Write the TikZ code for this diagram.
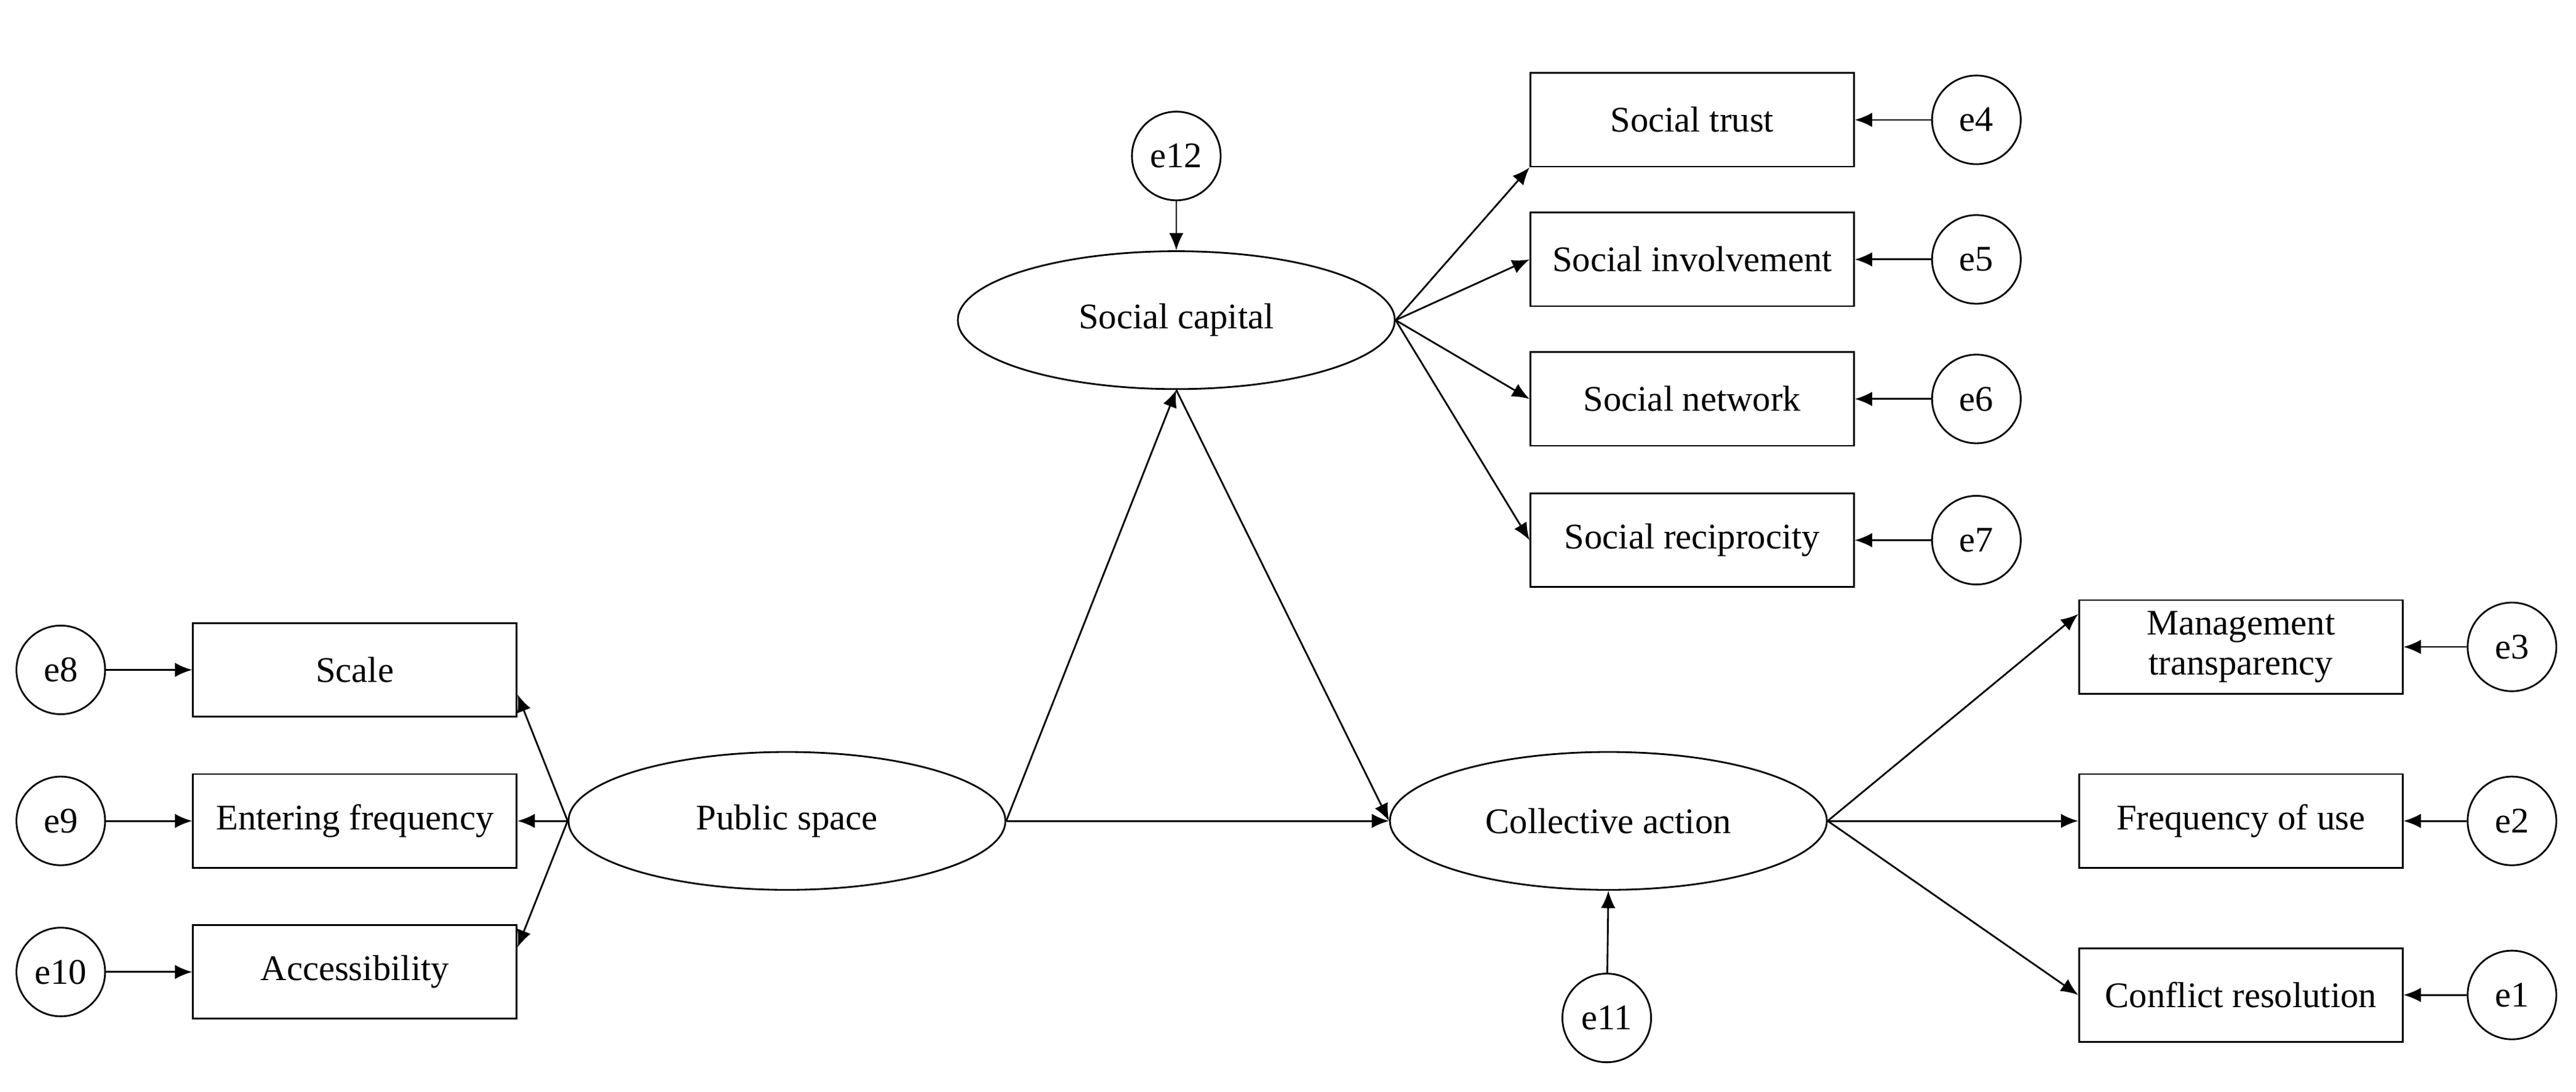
\documentclass[tikz,border=0pt]{standalone}
\usepackage{fontspec}
\setmainfont{Liberation Serif}
\usetikzlibrary{arrows.meta,shapes.geometric}
\begin{document}
\begin{tikzpicture}[x=0.02cm,y=-0.02cm,
  every node/.style={font=\fontsize{12.5}{14}\selectfont, line width=0.6pt, inner sep=0pt},
  box/.style={draw, minimum width=3.94cm, minimum height=1.14cm, align=center},
  lat/.style={draw, ellipse, minimum width=5.32cm, minimum height=1.68cm},
  err/.style={draw, circle, minimum size=1.08cm},
  arr/.style={line width=0.6pt, -{Latex[length=6pt,width=5pt]}}]
\useasboundingbox (0,0) rectangle (1568,665);
\node[lat] (sc) at (716,195) {Social capital};
\node[lat] (ps) at (479,500) {Public space};
\node[lat] (ca) at (979,500) {Collective action};
\node[err] (e12) at (716,95) {e12};
\node[box] (st) at (1030,73) {Social trust};
\node[box] (si) at (1030,158) {Social involvement};
\node[box] (sn) at (1030,243) {Social network};
\node[box] (sr) at (1030,329) {Social reciprocity};
\node[err] (e4) at (1203,73) {e4};
\node[err] (e5) at (1203,158) {e5};
\node[err] (e6) at (1203,243) {e6};
\node[err] (e7) at (1203,329) {e7};
\node[box] (sca) at (216,408) {Scale};
\node[box] (ef) at (216,500) {Entering frequency};
\node[box] (ac) at (216,592) {Accessibility};
\node[err] (e8) at (37,408) {e8};
\node[err] (e9) at (37,500) {e9};
\node[err] (e10) at (37,592) {e10};
\node[box] (mt) at (1364,394) {Management\\transparency};
\node[box] (fu) at (1364,500) {Frequency of use};
\node[box] (cr) at (1364,606) {Conflict resolution};
\node[err] (e3) at (1529,394) {e3};
\node[err] (e2) at (1529,500) {e2};
\node[err] (e1) at (1529,606) {e1};
\node[err] (e11) at (978,620) {e11};
\draw[arr] (e12) -- (sc);
\foreach \a/\b in {e4/st,e5/si,e6/sn,e7/sr,e3/mt,e2/fu,e1/cr}{\draw[arr] (\a) -- (\b.east);}
\foreach \a/\b in {e8/sca,e9/ef,e10/ac}{\draw[arr] (\a) -- (\b.west);}
\draw[arr] (sc.east) -- (st.south west);
\draw[arr] (sc.east) -- (si.west);
\draw[arr] (sc.east) -- (sn.west);
\draw[arr] (sc.east) -- (sr.west);
\draw[arr] (ps.west) -- ([yshift=-0.3cm]sca.east);
\draw[arr] (ps.west) -- (ef.east);
\draw[arr] (ps.west) -- ([yshift=0.3cm]ac.east);
\draw[arr] (ps.east) -- (sc.south);
\draw[arr] (ps.east) -- (ca.west);
\draw[arr] (sc.south) -- (ca.west);
\draw[arr] (ca.east) -- ([yshift=0.4cm]mt.west);
\draw[arr] (ca.east) -- (fu.west);
\draw[arr] (ca.east) -- (cr.west);
\draw[arr] (e11) -- (ca.south);
\end{tikzpicture}
\end{document}
